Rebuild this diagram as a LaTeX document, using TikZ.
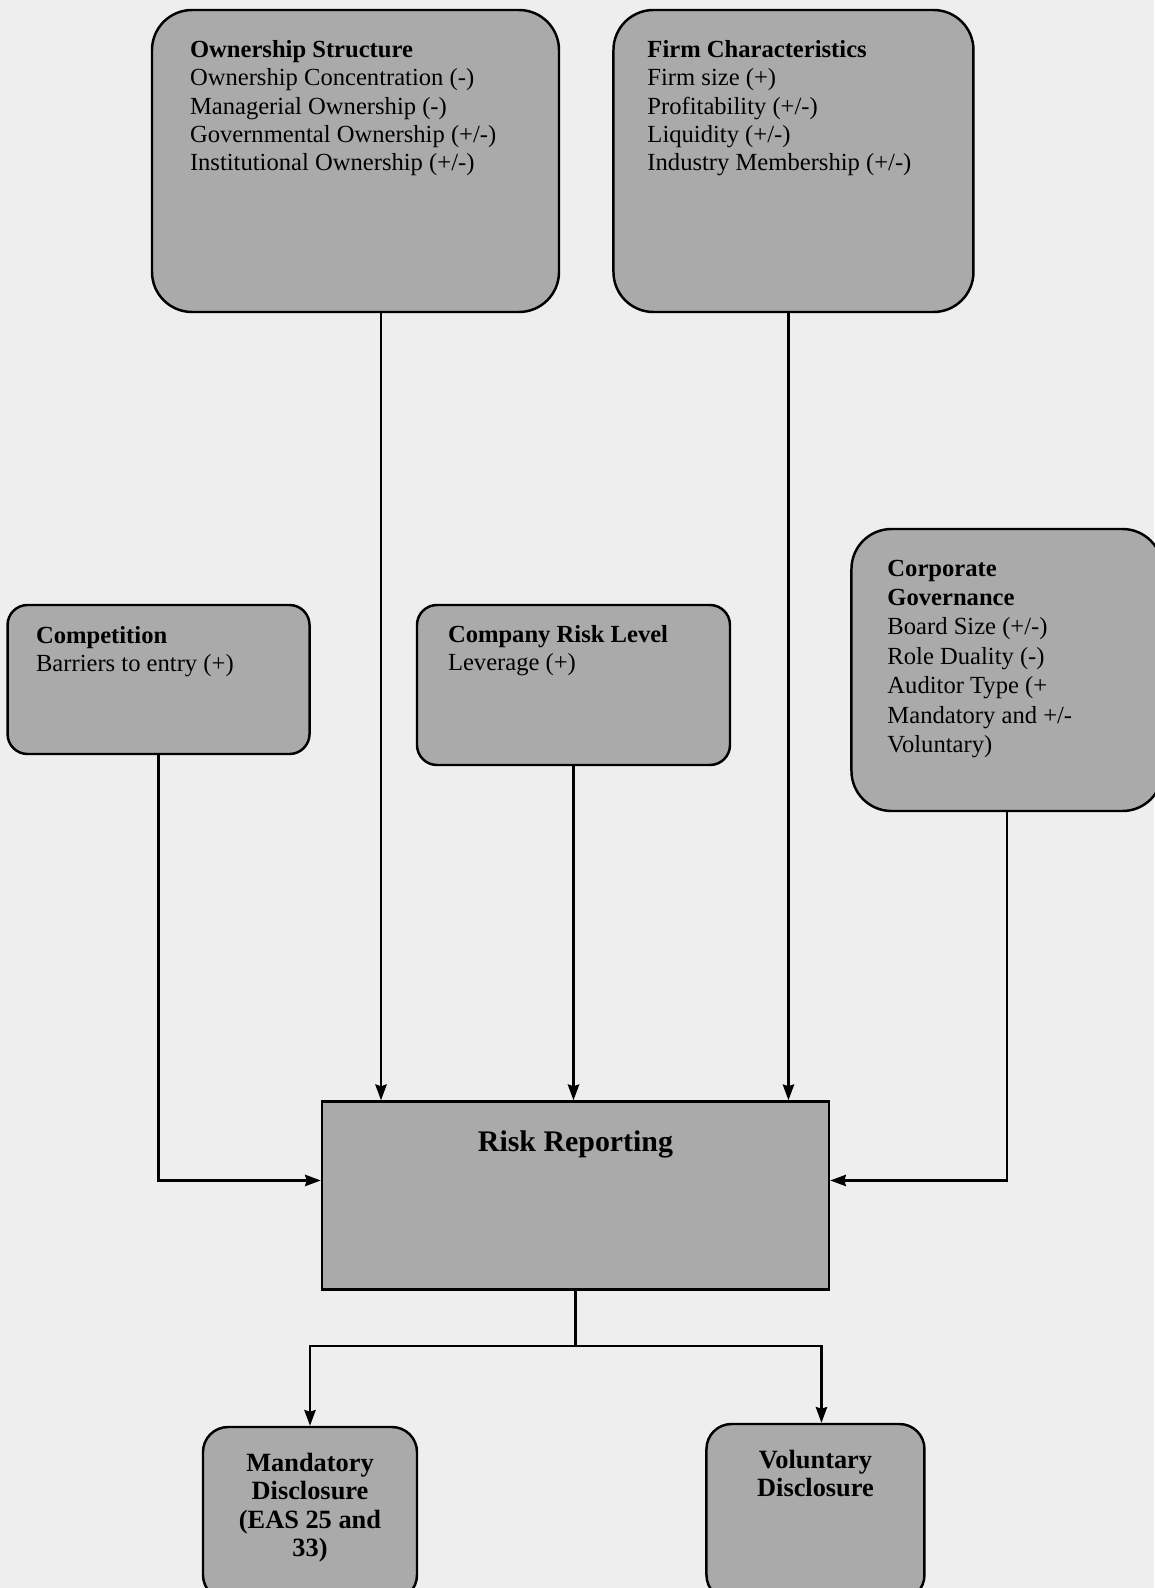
\documentclass[tikz,border=0pt]{standalone}
\usepackage{fontspec}
\setmainfont{Liberation Serif}
\usepackage{tikz}
\usetikzlibrary{positioning, arrows.meta}

\definecolor{boxgray}{RGB}{170,170,170}
\definecolor{pagegray}{RGB}{238,238,238}

% text block of fixed size, top aligned
\newcommand{\lefttext}[3]{\parbox[c][#1][t]{#2}{\raggedright #3}}
\newcommand{\midtext}[3]{\parbox[c][#1][t]{#2}{\centering #3}}

\begin{document}
\begin{tikzpicture}[
    node_box/.style={draw=black, line width=1.4pt, fill=boxgray, rounded corners=0.8cm, font=\fontsize{14}{16.2}\selectfont},
    node_small/.style={node_box, rounded corners=0.4cm},
    node_out/.style={node_box, rounded corners=0.5cm, font=\fontsize{15}{16.2}\selectfont\bfseries},
    edge_path/.style={-{Stealth[length=9pt, width=6.5pt, inset=1pt]}, line width=1.2pt},
    edge_line/.style={line width=1.2pt},
    node distance=1.0cm and 1.0cm
  ]
    \useasboundingbox[fill=pagegray] (0,0) rectangle (23.08,-31.76);

    \node[node_box, inner xsep=0.76cm, inner ysep=0.6cm] (OS) at (7.11,-3.22)
      {\lefttext{4.84cm}{6.62cm}{\textbf{Ownership Structure}\\Ownership Concentration (-)\\Managerial Ownership (-)\\Governmental Ownership (+/-)\\Institutional Ownership (+/-)}};
    \node[node_box, inner xsep=0.68cm, inner ysep=0.6cm, right=1.04cm of OS] (FC)
      {\lefttext{4.84cm}{5.84cm}{\textbf{Firm Characteristics}\\Firm size (+)\\Profitability (+/-)\\Liquidity (+/-)\\Industry Membership (+/-)}};

    \node[node_small, inner xsep=0.62cm, inner ysep=0.4cm] (CRL) at (11.47,-13.7)
      {\lefttext{2.4cm}{5.02cm}{\textbf{Company Risk Level}\\Leverage (+)}};
    \node[node_small, inner xsep=0.57cm, inner ysep=0.42cm, left=2.1cm of CRL, yshift=0.11cm] (CP)
      {\lefttext{2.14cm}{4.9cm}{\textbf{Competition}\\Barriers to entry (+)}};
    \node[node_box, inner xsep=0.72cm, inner ysep=0.62cm, right=2.38cm of CRL, yshift=0.3cm,
      font=\fontsize{14}{16.7}\selectfont] (CG)
      {\lefttext{4.4cm}{4.78cm}{\textbf{Corporate\\Governance}\\Board Size (+/-)\\Role Duality (-)\\Auditor Type (+\\Mandatory and +/-\\Voluntary)}};

    \node[node_box, rounded corners=0pt, inner xsep=0.3cm, inner ysep=0.58cm, below=6.68cm of CRL,
      xshift=0.04cm, font=\fontsize{17}{20}\selectfont\bfseries] (RR)
      {\midtext{2.6cm}{9.54cm}{Risk Reporting}};

    \node[node_out, inner xsep=0.2cm, inner ysep=0.52cm] (MD) at (6.2,-30.27)
      {\midtext{2.42cm}{3.88cm}{Mandatory\\Disclosure\\(EAS 25 and\\33)}};
    \node[node_out, inner xsep=0.2cm, inner ysep=0.52cm, right=5.74cm of MD, yshift=0.03cm] (VD)
      {\midtext{2.48cm}{3.96cm}{Voluntary\\Disclosure}};

    \coordinate (split) at ([yshift=-1.1cm]RR.south);

    \draw[edge_path] ([xshift=0.51cm]OS.south) -- ([xshift=0.51cm]OS.south |- RR.north);
    \draw[edge_path] ([xshift=-0.1cm]FC.south) -- ([xshift=-0.1cm]FC.south |- RR.north);
    \draw[edge_path] (CRL.south) -- (CRL.south |- RR.north);
    \draw[edge_path] (CP.south) |- ([yshift=0.3cm]RR.west);
    \draw[edge_path] (CG.south) |- ([yshift=0.3cm]RR.east);

    \draw[edge_line] (RR.south) -- (split);
    \draw[edge_path] (split) -| (MD.north);
    \draw[edge_path] (split) -| ([xshift=0.12cm]VD.north);
  \end{tikzpicture}
\end{document}
